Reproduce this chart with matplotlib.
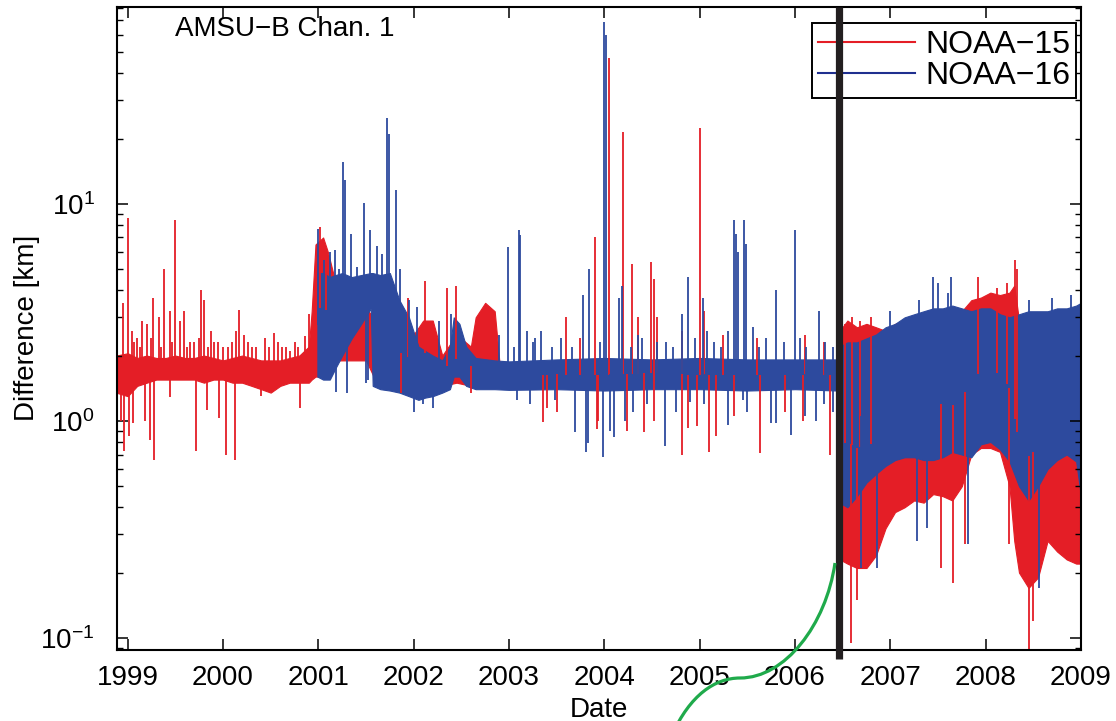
import numpy as np
import matplotlib
matplotlib.use("Agg")
import matplotlib.pyplot as plt
from matplotlib.lines import Line2D
from matplotlib.path import Path
from matplotlib.patches import PathPatch

plt.rcParams['font.family'] = ['Liberation Sans', 'DejaVu Sans']
plt.rcParams['mathtext.fontset'] = 'custom'
plt.rcParams['mathtext.rm'] = 'Liberation Sans'

RED = '#e41e26'
BLUE = '#2d4a9e'

# ---- NOAA-15: envelope of the dense daily series (year, low, high)
n15_t = [1998.88, 1999.00, 1999.10, 1999.20, 1999.30, 1999.40, 1999.50, 1999.60,
         1999.70, 1999.80, 1999.90, 2000.00, 2000.10, 2000.20, 2000.30, 2000.40,
         2000.50, 2000.60, 2000.70, 2000.80, 2000.90, 2000.93, 2000.97, 2001.05,
         2001.10, 2001.20, 2001.30, 2001.40, 2001.50, 2001.58, 2001.70, 2001.85,
         2002.00, 2002.10, 2002.20, 2002.30, 2002.45, 2002.60, 2002.65, 2002.75,
         2002.85, 2002.90, 2003.50, 2004.00, 2004.50, 2005.00, 2005.50, 2006.00,
         2006.45,
         2006.47, 2006.55, 2006.65, 2006.75, 2006.85, 2006.95, 2007.05, 2007.15,
         2007.25, 2007.35, 2007.45, 2007.55, 2007.65, 2007.75, 2007.85, 2007.95,
         2008.05, 2008.15, 2008.25, 2008.30, 2008.35, 2008.45, 2008.55, 2008.65,
         2008.75, 2008.85, 2008.95, 2009.00]
n15_lo = [1.35, 1.30, 1.45, 1.50, 1.55, 1.55, 1.55, 1.55,
          1.55, 1.50, 1.55, 1.55, 1.50, 1.50, 1.45, 1.40,
          1.35, 1.45, 1.50, 1.50, 1.50, 1.55, 1.60, 1.60,
          1.70, 1.90, 1.90, 1.90, 1.90, 1.60, 1.45, 1.43,
          1.43, 1.45, 1.45, 1.45, 1.50, 1.45, 1.45, 1.45,
          1.45, 1.42, 1.45, 1.42, 1.45, 1.43, 1.45, 1.42,
          1.45,
          0.23, 0.22, 0.21, 0.21, 0.24, 0.32, 0.38, 0.40,
          0.43, 0.42, 0.46, 0.45, 0.43, 0.50, 0.70, 0.75,
          0.75, 0.72, 0.50, 0.28, 0.20, 0.17, 0.19, 0.28,
          0.25, 0.23, 0.22, 0.22]
n15_hi = [2.00, 2.05, 1.95, 2.00, 1.95, 1.95, 2.00, 1.95,
          1.95, 2.00, 1.95, 1.90, 1.95, 2.00, 1.95, 1.90,
          1.90, 1.90, 1.95, 2.00, 2.20, 3.20, 6.50, 7.00,
          6.00, 4.00, 3.50, 3.20, 3.30, 3.00, 3.00, 3.00,
          2.50, 2.90, 2.90, 2.00, 2.50, 2.20, 3.00, 3.50,
          3.20, 1.85, 1.85, 1.85, 1.90, 1.85, 1.85, 1.85,
          1.85,
          2.60, 2.90, 2.70, 2.80, 2.70, 2.60, 2.80, 2.90,
          3.00, 3.10, 3.10, 3.20, 3.20, 3.20, 3.60, 3.70,
          3.90, 3.80, 3.90, 4.20, 2.90, 2.80, 2.90, 3.00,
          3.00, 3.10, 3.20, 3.20]

# ---- NOAA-16 envelope
n16_t = [2000.99, 2001.05, 2001.12, 2001.18, 2001.25, 2001.35, 2001.45, 2001.55,
         2001.57, 2001.65, 2001.75, 2001.85, 2001.95, 2002.05, 2002.12, 2002.20,
         2002.30, 2002.38, 2002.42, 2002.48, 2002.55, 2002.65, 2002.85, 2003.00,
         2003.50, 2004.00, 2004.50, 2005.00, 2005.50, 2006.00, 2006.45,
         2006.47, 2006.55, 2006.65, 2006.75, 2006.85, 2006.95, 2007.05, 2007.15,
         2007.25, 2007.35, 2007.45, 2007.55, 2007.65, 2007.75, 2007.85, 2007.95,
         2008.05, 2008.15, 2008.25, 2008.35, 2008.45, 2008.55, 2008.65, 2008.75,
         2008.85, 2008.95, 2009.00]
n16_lo = [1.60, 1.55, 1.55, 1.75, 2.00, 2.40, 2.80, 3.30,
          1.45, 1.40, 1.38, 1.35, 1.30, 1.25, 1.28, 1.30,
          1.35, 1.40, 1.60, 1.60, 1.45, 1.40, 1.40, 1.39,
          1.40, 1.38, 1.40, 1.40, 1.38, 1.40, 1.38,
          0.42, 0.40, 0.45, 0.52, 0.57, 0.62, 0.66, 0.68,
          0.68, 0.66, 0.66, 0.68, 0.72, 0.70, 0.68, 0.78,
          0.80, 0.74, 0.65, 0.50, 0.43, 0.50, 0.60, 0.66,
          0.70, 0.65, 0.45]
n16_hi = [4.80, 4.80, 4.60, 4.70, 4.80, 4.60, 4.70, 4.80,
          4.80, 4.70, 4.80, 3.60, 3.00, 2.20, 2.10, 2.00,
          1.90, 2.20, 3.00, 2.80, 2.20, 1.95, 1.90, 1.88,
          1.92, 1.95, 1.92, 1.95, 1.92, 1.92, 1.92,
          2.20, 2.30, 2.30, 2.40, 2.50, 2.70, 2.80, 3.00,
          3.10, 3.20, 3.30, 3.30, 3.40, 3.30, 3.20, 3.30,
          3.30, 3.10, 3.00, 3.10, 3.20, 3.20, 3.20, 3.30,
          3.30, 3.40, 3.50]

# ---- isolated spikes (year, value)
n15_spk_t = [1998.95, 1999.00, 1999.04, 1999.10, 1999.15, 1999.20, 1999.27, 1999.33,
             1999.38, 1999.44, 1999.50, 1999.55, 1999.59, 1999.65, 1999.70, 1999.77,
             1999.80, 1999.87, 1999.91, 2000.00, 2000.09, 2000.14, 2000.17, 2000.22,
             2000.30, 2000.54, 2000.62, 2000.70, 2000.86, 2000.90, 2001.02, 2001.08,
             2001.94, 2002.12, 2002.35, 2002.44, 2002.75, 2003.60, 2003.75, 2003.90,
             2004.05, 2004.20, 2004.29, 2004.35, 2004.49, 2004.52, 2004.55, 2004.82,
             2005.00, 2005.05, 2005.25, 2005.60, 2006.10, 2006.30,
             2006.52, 2006.60, 2006.68, 2006.80, 2007.92, 2008.12, 2008.22, 2008.31,
             2008.33,
             1999.07, 1999.13, 1999.24, 1999.35, 1999.47, 1999.62, 1999.75, 1999.84,
             1999.95, 2000.05, 2000.26, 2000.35, 2000.44, 2000.48, 2000.58, 2000.66,
             2000.75, 2000.79,
             1998.93, 1998.96, 1999.01, 1999.06, 1999.18, 1999.23, 1999.28, 1999.44,
             1999.72, 1999.83, 1999.96, 2000.03, 2000.13, 2000.40, 2000.81,
             2001.87, 2002.60, 2003.36, 2003.40, 2003.50, 2003.92, 2003.93, 2004.24,
             2004.42, 2004.52, 2004.82, 2004.88, 2004.97, 2005.10, 2005.17, 2005.36,
             2005.63, 2005.90, 2006.08, 2006.37,
             2006.59, 2006.65, 2007.53, 2007.66, 2007.78, 2008.24, 2008.45, 2008.50]
n15_spk_v = [3.5, 8.6, 2.6, 2.4, 2.9, 2.8, 3.7, 3.0,
             5.0, 3.2, 8.4, 2.9, 3.2, 2.3, 2.3, 4.0,
             3.6, 2.6, 2.3, 2.2, 2.3, 2.6, 3.25, 2.5,
             2.2, 2.55, 2.2, 2.1, 2.45, 3.1, 7.8, 6.0,
             3.7, 4.4, 4.1, 4.2, 3.4, 3.0, 2.4, 7.0,
             47.0, 21.5, 5.3, 3.0, 5.4, 4.5, 3.0, 2.6,
             22.4, 3.2, 2.5, 2.4, 2.5, 2.3,
             2.8, 3.0, 2.9, 3.0, 4.6, 4.1, 4.3, 5.5,
             5.0,
             2.3, 2.2, 2.4, 2.2, 2.3, 2.2, 2.4, 2.2,
             2.3, 2.2, 2.3, 2.2, 2.4, 2.2, 2.3, 2.2,
             2.3, 2.2,
             1.0, 0.73, 0.85, 0.98, 1.0, 0.82, 0.66, 1.29,
             0.73, 1.12, 1.03, 0.70, 0.66, 1.3, 1.15,
             1.35, 1.35, 0.99, 1.15, 1.1, 0.92, 1.0, 0.9,
             0.89, 1.0, 0.70, 0.93, 0.95, 0.72, 0.85, 1.05,
             0.71, 1.1, 1.0, 0.70,
             0.095, 0.15, 0.21, 0.18, 0.27, 0.27, 0.085, 0.12]

n16_spk_t = [2001.00, 2001.06, 2001.12, 2001.17, 2001.22, 2001.26, 2001.28, 2001.34,
             2001.41, 2001.48, 2001.54, 2001.62, 2001.67, 2001.72, 2001.74, 2001.81,
             2001.86, 2001.95, 2002.03, 2002.27, 2002.39, 2002.90, 2002.99, 2003.10,
             2003.12, 2003.19, 2003.27, 2003.34, 2003.78, 2003.84, 2004.00, 2004.02,
             2004.15, 2004.19, 2004.40, 2004.65, 2004.82, 2004.88, 2005.04, 2005.08,
             2005.36, 2005.38, 2005.40, 2005.47, 2005.49, 2005.56, 2005.70, 2005.80,
             2006.00, 2006.25, 2006.40,
             2003.05, 2003.25, 2003.45, 2003.55, 2003.66, 2003.95, 2004.28, 2004.35,
             2004.55, 2004.72, 2004.95, 2005.15, 2005.22, 2005.30, 2005.62, 2005.88,
             2006.05, 2006.12, 2006.32,
             2007.00, 2007.30, 2007.45, 2007.50, 2007.60, 2007.64, 2008.45, 2008.70,
             2008.90, 2009.00,
             2001.18, 2001.30, 2001.50, 2001.52, 2002.00, 2002.10, 2002.20, 2003.69,
             2003.81, 2003.83, 2003.99, 2004.06, 2004.10, 2004.22, 2004.30, 2004.64,
             2004.75, 2005.30, 2005.50, 2005.75, 2005.80, 2005.96, 2006.10, 2006.22,
             2006.40,
             2003.08, 2003.22, 2003.48, 2004.45, 2004.90, 2005.05, 2005.45, 2006.30,
             2006.69, 2006.86, 2007.28, 2007.39, 2007.82, 2008.56]
n16_spk_v = [7.7, 5.5, 6.0, 6.1, 5.0, 15.6, 12.9, 7.3,
             5.1, 10.1, 7.6, 6.4, 5.9, 24.9, 21.0, 11.6,
             5.0, 3.6, 3.35, 2.9, 3.1, 2.5, 6.3, 7.6,
             7.2, 2.6, 2.4, 2.6, 3.8, 5.0, 69.0, 60.0,
             3.7, 4.2, 2.4, 2.3, 3.1, 4.6, 3.7, 2.6,
             8.4, 7.3, 6.0, 8.4, 6.5, 2.7, 2.4, 4.0,
             7.6, 3.2, 2.2,
             2.2, 2.3, 2.2, 2.4, 2.2, 2.3, 2.2, 2.5,
             2.3, 2.2, 2.4, 2.3, 2.2, 2.6, 2.2, 2.3,
             2.4, 2.2, 2.3,
             3.2, 3.6, 4.6, 4.3, 3.9, 4.6, 3.6, 3.7,
             3.8, 3.6,
             1.36, 1.35, 1.5, 1.55, 1.1, 1.2, 1.15, 0.89,
             0.72, 0.79, 0.68, 0.9, 0.84, 1.0, 1.1, 0.77,
             1.1, 0.96, 1.1, 0.98, 0.98, 0.86, 1.05, 1.0,
             1.1,
             1.25, 1.2, 1.25, 1.2, 1.22, 1.2, 1.25, 1.2,
             0.21, 0.21, 0.28, 0.32, 0.27, 0.17]

years = list(range(1999, 2010))
switch_date = 2006.465


def draw_series(ax, t, lo, hi, spk_t, spk_v, color):
    ax.fill_between(t, lo, hi, color=color, lw=0.8, edgecolor=color)
    # spikes start from the middle of the band (log centre)
    centre = np.sqrt(np.interp(spk_t, t, lo) * np.interp(spk_t, t, hi))
    ax.vlines(spk_t, centre, spk_v, color=color, lw=1.3)


fig = plt.figure(figsize=(11.16, 7.21), dpi=100)
ax = fig.add_axes([0.1046, 0.0985, 0.8640, 0.8922])

draw_series(ax, n15_t, n15_lo, n15_hi, n15_spk_t, n15_spk_v, RED)
draw_series(ax, n16_t, n16_lo, n16_hi, n16_spk_t, n16_spk_v, BLUE)

ax.set_yscale('log')
ax.set_xlim(1998.885, 2009.0)
ax.set_ylim(0.088, 81)
ax.set_xticks(years)
ax.set_xticklabels([str(y) for y in years])
ax.tick_params(which='both', direction='in', top=True, right=True, labelsize=20)
ax.tick_params(which='major', length=8, width=1.1)
ax.tick_params(which='minor', length=4.3, width=1.0)
ax.tick_params(axis='x', which='minor', bottom=False, top=False)
ax.tick_params(axis='y', pad=16)
ax.tick_params(axis='x', pad=11)
for s in ax.spines.values():
    s.set_linewidth(1.5)

ax.set_xlabel('Date', fontsize=20, labelpad=4)
ax.set_ylabel('Difference [km]', fontsize=20, labelpad=0)
ax.text(0.06, 0.965, 'AMSU\u2212B Chan. 1', transform=ax.transAxes,
        fontsize=20, ha='left', va='center')

handles = [Line2D([], [], color=RED, lw=1.5),
           Line2D([], [], color='#1f2f8f', lw=1.5)]
leg = ax.legend(handles, ['NOAA\u221215', 'NOAA\u221216'], loc='upper left',
                bbox_to_anchor=(0.7207, 0.974), fontsize=23, fancybox=False,
                handlelength=3.05, handletextpad=0.3, labelspacing=0.05,
                borderpad=0.2, borderaxespad=0, framealpha=1)
leg.get_frame().set_edgecolor('black')
leg.get_frame().set_linewidth(1.4)

# thick separator line, drawn above the legend
ax.plot([switch_date, switch_date], [-0.014, 1.0], color='#231f20', lw=5.2,
        transform=ax.get_xaxis_transform(), clip_on=False, zorder=6,
        solid_capstyle='butt')

# green hand-drawn curve (figure pixels, y measured from top)
W, H = 1116.0, 721.0
pts = [(835, 563), (826, 625), (785, 678), (740, 678),
       (715, 678), (690, 695), (672, 735)]
verts = [(x / W, (H - y) / H) for x, y in pts]
codes = [Path.MOVETO] + [Path.CURVE4] * 6
fig.patches.append(PathPatch(Path(verts, codes), fill=False, edgecolor='#1faa4b',
                             lw=2.3, transform=fig.transFigure))

fig.savefig('out.png', dpi=100)
